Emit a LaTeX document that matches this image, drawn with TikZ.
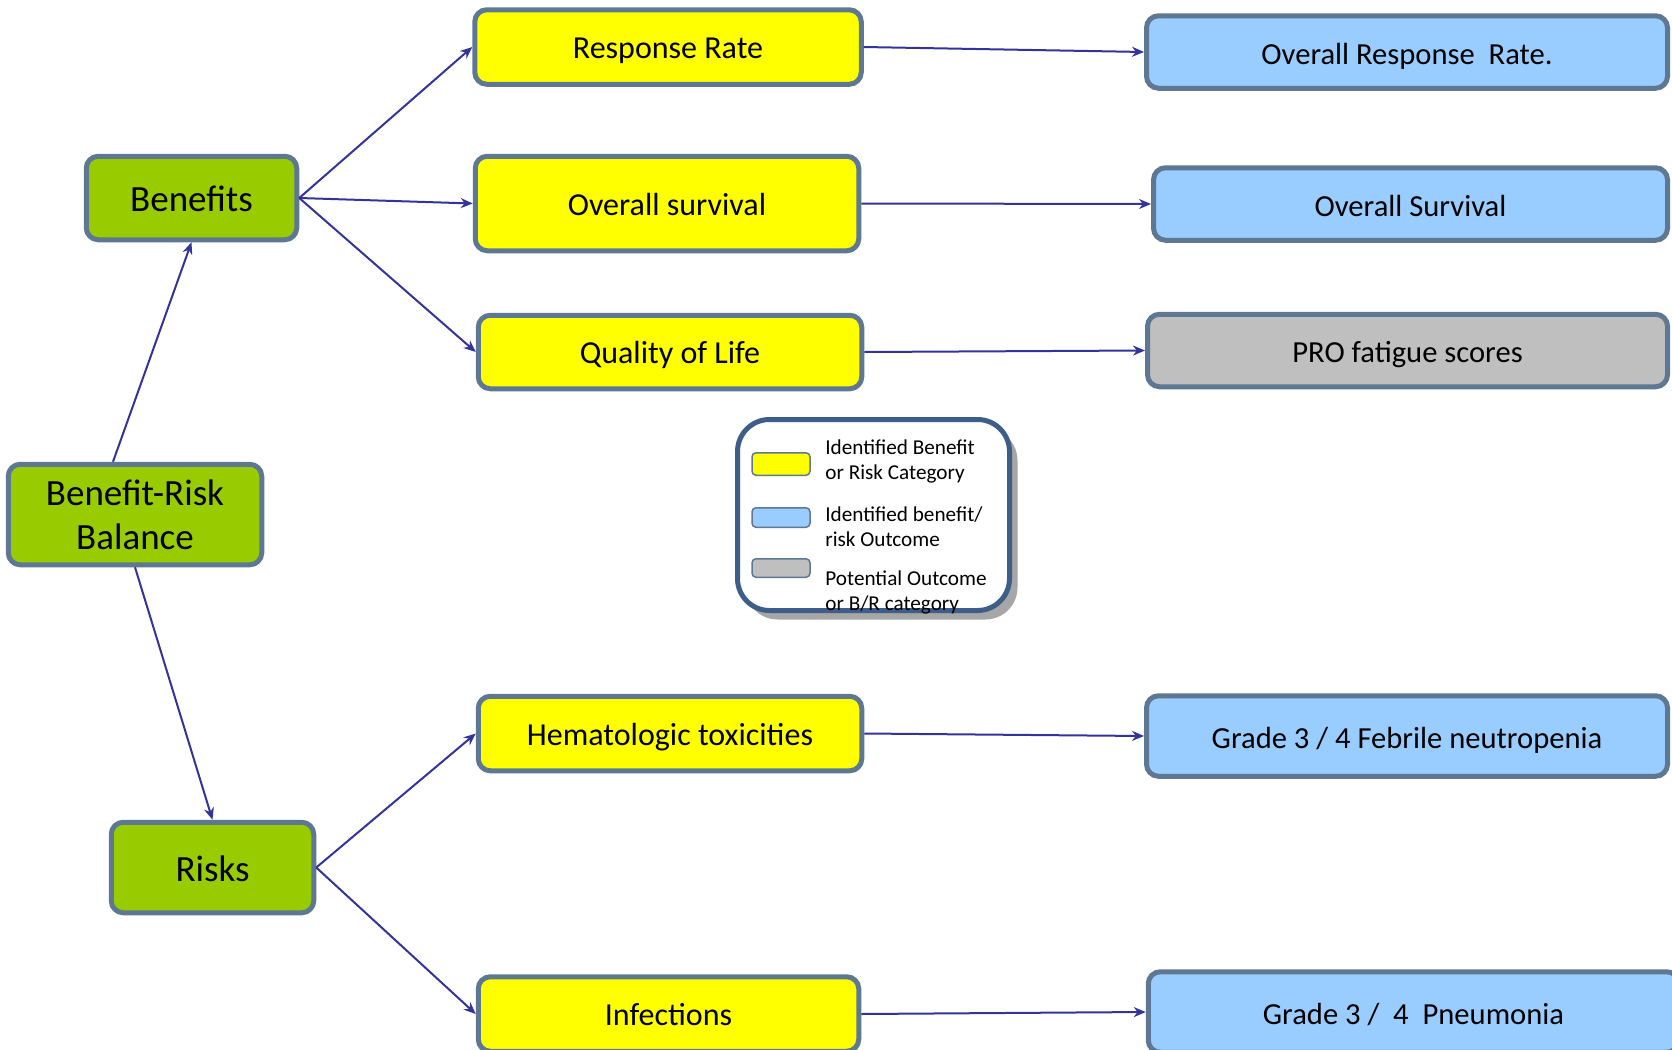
\documentclass[tikz,border=0pt]{standalone}
\usepackage{fontspec}
\setmainfont{Carlito}
\usetikzlibrary{positioning,arrows.meta,shadows}

\definecolor{brgreen}{RGB}{153,204,0}
\definecolor{catyellow}{RGB}{255,255,0}
\definecolor{outblue}{RGB}{153,204,255}
\definecolor{potgray}{RGB}{191,191,191}
\definecolor{boxline}{RGB}{94,120,148}
\definecolor{legline}{RGB}{62,94,138}
\definecolor{arrowblue}{RGB}{51,51,153}

\begin{document}
\begin{tikzpicture}[
		on grid,
		box/.style={draw=boxline, line width=2.5pt, rounded corners=6pt, inner sep=0pt, align=center, text depth=0pt},
		topbox/.style={box, fill=brgreen, font=\fontsize{18.5}{22}\selectfont},
		catbox/.style={box, text height=11.7pt, fill=catyellow, font=\fontsize{16}{19}\selectfont},
		outbox/.style={box, text height=12.3pt, fill=outblue, font=\fontsize{15.3}{18}\selectfont},
		arr/.style={draw=arrowblue, line width=1pt, -{Stealth[length=6pt,width=5pt]}},
		swatch/.style={draw=boxline, line width=0.75pt, rounded corners=2pt, inner sep=0pt, minimum width=29pt},
		legtext/.style={font=\fontsize{10.6}{12.5}\selectfont, align=left, anchor=west, inner sep=0pt}
	]
	\useasboundingbox (0,0) rectangle (836pt,-525pt);

	% balance, benefits and risks
	\node[topbox, text depth=, minimum width=126.75pt, minimum height=50.25pt] (brb) at (67.5pt,-257.25pt) {Benefit-Risk\\Balance};
	\node[topbox, text height=13.8pt, minimum width=105.25pt, minimum height=41.75pt, above right=158.25pt and 28.25pt of brb] (ben) {Benefits};
	\node[topbox, text height=13.8pt, minimum width=101.25pt, minimum height=45.25pt, below right=176.5pt and 38.75pt of brb] (risk) {Risks};

	% categories
	\node[catbox, minimum width=191.75pt, minimum height=47.25pt, below right=2.75pt and 237.75pt of ben] (os) {Overall survival};
	\node[catbox, minimum width=193.25pt, minimum height=37.25pt, above right=78.25pt and 0.5pt of os] (rr) {Response Rate};
	\node[catbox, minimum width=191.75pt, minimum height=36.75pt, below right=74.25pt and 1.5pt of os] (qol) {Quality of Life};
	\node[catbox, minimum width=191.75pt, minimum height=37.25pt, above right=67pt and 228.75pt of risk] (hema) {Hematologic toxicities};
	\node[catbox, minimum width=190.25pt, minimum height=37.25pt, below right=73.25pt and 228pt of risk] (inf) {Infections};

	% outcomes
	\node[outbox, minimum width=260.5pt, minimum height=36.25pt, below right=2.5pt and 369.5pt of rr] (orr) {Overall Response\ \ Rate.};
	\node[outbox, minimum width=257pt, minimum height=36.25pt, below right=0.25pt and 371.75pt of os] (osv) {Overall Survival};
	\node[outbox, fill=potgray, minimum width=260pt, minimum height=36.25pt, above right=0.75pt and 368.75pt of qol] (pro) {PRO fatigue scores};
	\node[outbox, minimum width=260.5pt, minimum height=40.25pt, below right=1.25pt and 368.5pt of hema] (fn) {Grade 3 / 4 Febrile neutropenia};
	\node[outbox, minimum width=265.25pt, minimum height=40.25pt, above right=1pt and 372.5pt of inf] (pn) {Grade 3 /\ \ 4\ \ Pneumonia};

	% legend
	\node[draw=legline, fill=white, line width=2.5pt, rounded corners=16pt, minimum width=136pt, minimum height=95.5pt,
		drop shadow={shadow xshift=4pt, shadow yshift=-4.5pt, fill=black!35, opacity=1}] (leg) at (436.75pt,-257.5pt) {};
	\node[swatch, fill=catyellow, minimum height=11.25pt] (swcat) at (390.5pt,-232pt) {};
	\node[swatch, fill=outblue, minimum height=9.75pt] (swout) at (390.5pt,-258.75pt) {};
	\node[swatch, fill=potgray, minimum height=9.25pt] (swpot) at (390.5pt,-284pt) {};
	\node[legtext] (lgcat) at (412.5pt,-230.5pt) {Identified Benefit\\or Risk Category};
	\node[legtext] (lgout) at (412.5pt,-263.5pt) {Identified benefit/\\risk Outcome};
	\node[legtext] (lgpot) at (412.5pt,-296.25pt) {Potential Outcome\\or B/R category};

	% connectors
	\draw[arr] ([xshift=-11pt]brb.north) -- (ben.south);
	\draw[arr] (brb.south) -- (risk.north);
	\draw[arr] (ben.east) -- (rr.west);
	\draw[arr] (ben.east) -- (os.west);
	\draw[arr] (ben.east) -- (qol.west);
	\draw[arr] (risk.east) -- (hema.west);
	\draw[arr] (risk.east) -- (inf.west);
	\draw[arr] (rr.east) -- (orr.west);
	\draw[arr] (os.east) -- (osv.west);
	\draw[arr] (qol.east) -- (pro.west);
	\draw[arr] (hema.east) -- (fn.west);
	\draw[arr] (inf.east) -- (pn.west);
\end{tikzpicture}
\end{document}
